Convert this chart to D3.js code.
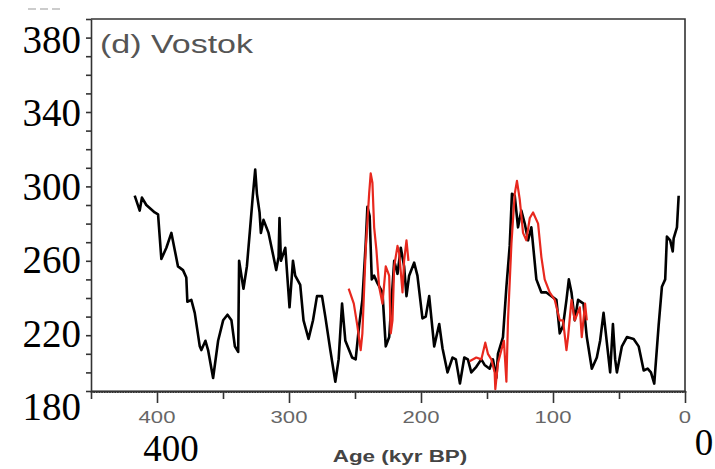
<!DOCTYPE html>
<html lang="en">
<meta charset="UTF-8">
<title>Vostok CO2</title>
<script src="https://d3js.org/d3.v7.min.js"></script>
<style>
  body { margin: 0; background: #fff; }
  svg { display: block; }
  .frame { fill: none; stroke: #333; stroke-width: 1.6; }
  .axis path, .axis line { stroke: #333; stroke-width: 1.6; }
  .small { font-family: "Liberation Sans", Arial, sans-serif; fill: #666; }
  .big { font-family: "Liberation Serif", "Times New Roman", serif; fill: #000; font-size: 39px; }
</style>
<body>
<svg width="715" height="469"></svg>
<script>
// Vostok CO2 (black), age in kyr BP and ppmv
var vostokAge = [416.9, 413.1, 411.4, 408.1, 401.7, 399.2, 396.7, 392.9, 389.1, 386.6, 384.1, 380.3, 377.8, 377.0,
  374.0, 371.4, 367.6, 366.4, 363.3, 361.3, 357.5, 353.7, 349.9, 346.6, 343.6, 341.0, 338.5, 337.8, 334.5,
  331.9, 329.4, 327.4, 325.6, 324.3, 322.3, 321.3, 319.3, 315.5, 311.7, 309.7, 307.9, 307.2, 306.1, 302.8,
  299.6, 297.0, 295.3, 291.5, 289.0, 285.2, 281.8, 278.8, 275.0, 272.5, 268.7, 264.9, 262.4, 259.8, 257.3,
  252.2, 249.5, 246.9, 244.4, 241.9, 240.6, 238.9, 237.3, 235.5, 233.0, 229.2, 226.7, 224.1, 221.6, 220.3,
  217.8, 215.3, 212.8, 211.0, 209.0, 205.2, 202.7, 198.9, 196.4, 193.8, 190.0, 186.2, 183.7, 179.9, 176.1,
  173.6, 170.5, 167.2, 164.5, 161.9, 158.1, 154.3, 151.8, 148.0, 145.5, 142.9, 141.7, 137.9, 135.3, 132.8,
  131.1, 129.0, 126.5, 124.0, 121.4, 118.9, 116.4, 112.6, 108.8, 105.0, 101.2, 97.4, 94.9, 92.4, 89.8, 88.0,
  86.0, 83.5, 81.0, 76.9, 74.4, 70.6, 66.8, 64.3, 61.7, 59.2, 56.7, 54.6, 52.9, 51.6, 47.8, 44.0, 38.9, 35.1,
  31.3, 28.3, 25.8, 23.3, 20.0, 17.5, 15.0, 13.7, 11.2, 9.3, 8.6, 6.1, 4.8];
var vostokCO2 = [285, 277, 284, 280, 276, 275, 251, 257, 265, 256, 247, 245, 241, 228,
  229, 222, 204, 202, 207, 202, 187, 207, 218, 221, 218, 204, 201, 250, 235,
  247, 268, 285, 299, 286, 276, 265, 272, 265, 252, 245, 252, 273, 250, 257,
  225, 250, 242, 237, 218, 208, 218, 231, 231, 220, 202, 185, 197, 227, 207,
  198, 197, 215, 229, 259, 279, 274, 240, 242, 238, 233, 204, 209, 236, 250,
  243, 257, 247, 231, 242, 249, 242, 219, 220, 231, 204, 216, 203, 190, 198,
  197, 184, 198, 197, 190, 193, 197, 194, 192, 197, 187, 200, 209, 236, 258,
  286, 285, 268, 277, 270, 261, 268, 240, 233, 233, 231, 229, 211, 215, 229, 240,
  233, 218, 229, 227, 209, 192, 198, 207, 222, 206, 190, 216, 197, 190, 204, 209, 208, 204,
  191, 192, 190, 184, 215, 236, 240, 263, 261, 255, 262, 268, 285];

// second record (red); null marks the gap
var redAge = [254.8, 250.9, 248.2, 245.7, 244.4, 241.9, 239.3, 238.1, 236.8, 235.5, 233.8, 231.7, 229.2,
  226.7, 224.1, 222.9, 221.6, 220.3, 217.8, 216.5, 214.0, 212.8, 211.0, 209.5, 186.0,
  163.2, 158.1, 154.3, 151.3, 149.3, 146.7, 144.2, 143.7, 141.7, 139.1, 137.2, 135.3, 134.1, 131.5,
  129.0, 127.3, 125.2, 122.7, 120.2, 117.6, 115.1, 111.3, 108.8, 106.3, 102.5, 98.7, 94.9, 92.4, 89.8,
  88.6, 86.0, 83.5, 79.7, 78.2, 75.7, 74.4];
var redCO2 = [235, 227, 215, 202, 211, 256, 286, 297, 292, 268, 256, 236, 227,
  247, 242, 211, 218, 247, 258, 254, 233, 250, 261, 250, null,
  196, 198, 197, 206, 200, 197, 190, 181, 195, 202, 207, 185, 218, 259,
  286, 293, 283, 265, 261, 273, 276, 270, 252, 240, 233, 229, 218, 218, 202,
  209, 229, 218, 225, 209, 227, 218];

var xTicks = [400, 300, 200, 100, 0];
var yLabels = [380, 340, 300, 260, 220, 180];
var xLabels = [400, 0];

var svg = d3.select("svg");
var x = d3.scaleLinear().domain([450, 0]).range([91, 685]);
var y = d3.scaleLinear().domain([180, 380]).range([391, 19]);

// overlaid big labels sit on their own slightly different scale
var labY = d3.scaleLinear().domain([180, 380]).range([420, 53]);
var labX = d3.scaleLinear().domain([400, 0]).range([171, 704]);

// stray dashes top left
svg.append("line")
  .attr("x1", 28).attr("x2", 62).attr("y1", 9).attr("y2", 9)
  .attr("stroke", "#999").attr("stroke-dasharray", "8,4");

// frame (top + right)
svg.append("path").attr("class", "frame")
  .attr("d", `M${x(450)},${y(380)}H${x(0)}V${y(180)}`);

// axes
svg.append("g").attr("class", "axis")
  .attr("transform", `translate(0,${y(180)})`)
  .call(d3.axisBottom(x).tickValues(d3.range(0, 451, 2)).tickSize(2).tickFormat("").tickSizeOuter(0));
svg.append("g").attr("class", "axis")
  .attr("transform", `translate(0,${y(180)})`)
  .call(d3.axisBottom(x).tickValues(d3.range(50, 451, 100)).tickSize(8).tickFormat("").tickSizeOuter(0));
svg.append("g").attr("class", "axis")
  .attr("transform", `translate(0,${y(180)})`)
  .call(d3.axisBottom(x).tickValues(xTicks).tickSize(12).tickFormat("").tickSizeOuter(0));
svg.append("g").attr("class", "axis")
  .attr("transform", `translate(${x(450)},0)`)
  .call(d3.axisLeft(y).ticks(20).tickSize(5).tickFormat("").tickSizeOuter(0));

// small gray tick labels (horizontally stretched like the source raster)
svg.append("g").selectAll("text")
  .data(xTicks).join("text")
  .attr("class", "small")
  .attr("transform", d => `translate(${x(d)},423) scale(1.3,1)`)
  .attr("text-anchor", "middle")
  .style("font-size", "17px")
  .text(d => d);

svg.append("text").attr("class", "small")
  .attr("transform", `translate(${x(225) + 12},462) scale(1.32,1)`)
  .attr("text-anchor", "middle")
  .style("font-size", "17px").style("font-weight", "bold").style("fill", "#444")
  .text("Age (kyr BP)");

svg.append("text").attr("class", "small")
  .attr("transform", `translate(100,53) scale(1.36,1)`)
  .style("font-size", "25px").style("fill", "#555")
  .text("(d) Vostok");

// data lines
var line = d3.line()
  .defined(d => d[1] != null)
  .x(d => x(d[0]))
  .y(d => y(d[1]));

svg.append("path")
  .datum(d3.zip(vostokAge, vostokCO2))
  .attr("fill", "none").attr("stroke", "#000")
  .attr("stroke-width", 2.6).attr("stroke-linejoin", "round")
  .attr("d", line);

svg.append("path")
  .datum(d3.zip(redAge, redCO2))
  .attr("fill", "none").attr("stroke", "#e8281e")
  .attr("stroke-width", 2.2).attr("stroke-linejoin", "round")
  .attr("d", line);

// big overlaid serif labels
svg.append("g").selectAll("text")
  .data(yLabels).join("text")
  .attr("class", "big")
  .attr("x", 81).attr("y", d => labY(d))
  .attr("text-anchor", "end")
  .text(d => d);

svg.append("g").selectAll("text")
  .data(xLabels).join("text")
  .attr("class", "big")
  .style("font-size", "37px")
  .attr("x", d => labX(d)).attr("y", (d, i) => i ? 455 : 461)
  .attr("text-anchor", "middle")
  .text(d => d);
</script>
</body>
</html>
